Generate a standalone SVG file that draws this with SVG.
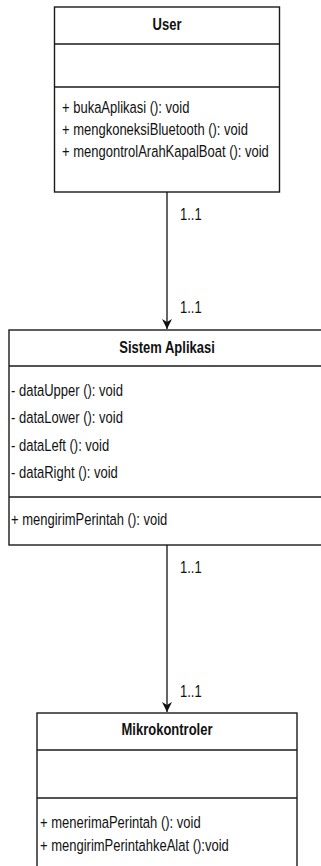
<svg xmlns="http://www.w3.org/2000/svg" width="321" height="866" viewBox="0 0 321 866">
<defs>
<marker id="arr" markerUnits="userSpaceOnUse" markerWidth="10" markerHeight="12" viewBox="0 0 10 12" refX="10" refY="5" orient="auto">
<path d="M0,0 L10,5 L0,10 L3,5 Z" fill="#111"/>
</marker>
<style>
.box{fill:#fff;stroke:#1a1a1a;stroke-width:1.4}
.sep{stroke:#1a1a1a;stroke-width:1.4}
.t{font-family:"Liberation Sans",Arial,sans-serif;font-size:13px;fill:#111}
.b{font-family:"Liberation Sans",Arial,sans-serif;font-size:13px;font-weight:bold;fill:#111;text-anchor:middle}
.edge{stroke:#111;stroke-width:1.3;fill:none}
</style>
</defs>
<rect width="321" height="866" fill="#fff"/>
<g id="user">
<rect class="box" x="54.5" y="7" width="225" height="185"/>
<line class="sep" x1="54.5" y1="44" x2="279.5" y2="44"/>
<line class="sep" x1="54.5" y1="87" x2="279.5" y2="87"/>
<text class="b" transform="translate(167,30) scale(1,1.3)">User</text>
<text class="t" transform="translate(62,113) scale(1,1.3)">+ bukaAplikasi (): void</text>
<text class="t" transform="translate(62,135) scale(1,1.3)">+ mengkoneksiBluetooth (): void</text>
<text class="t" transform="translate(62,157) scale(1,1.3)">+ mengontrolArahKapalBoat (): void</text>
</g>
<g id="sistem">
<rect class="box" x="9" y="330" width="316" height="215"/>
<line class="sep" x1="9" y1="366" x2="325" y2="366"/>
<line class="sep" x1="9" y1="497" x2="325" y2="497"/>
<text class="b" transform="translate(167,353) scale(1,1.3)">Sistem Aplikasi</text>
<text class="t" transform="translate(11,396) scale(1,1.3)">- dataUpper (): void</text>
<text class="t" transform="translate(11,423) scale(1,1.3)">- dataLower (): void</text>
<text class="t" transform="translate(11,451) scale(1,1.3)">- dataLeft (): void</text>
<text class="t" transform="translate(11,478) scale(1,1.3)">- dataRight (): void</text>
<text class="t" transform="translate(11,525) scale(1,1.3)">+ mengirimPerintah (): void</text>
</g>
<g id="mikro">
<rect class="box" x="37" y="713" width="260" height="170"/>
<line class="sep" x1="37" y1="750" x2="297" y2="750"/>
<line class="sep" x1="37" y1="798" x2="297" y2="798"/>
<text class="b" transform="translate(167,735) scale(1,1.3)">Mikrokontroler</text>
<text class="t" transform="translate(40,828) scale(1,1.3)">+ menerimaPerintah (): void</text>
<text class="t" transform="translate(40,851) scale(1,1.3)">+ mengirimPerintahkeAlat ():void</text>
</g>
<g id="connectors">
<line class="edge" x1="167" y1="192" x2="167" y2="329" marker-end="url(#arr)"/>
<text class="t" transform="translate(180,220) scale(1,1.3)">1..1</text>
<text class="t" transform="translate(180,313) scale(1,1.3)">1..1</text>
<line class="edge" x1="167" y1="545" x2="167" y2="712" marker-end="url(#arr)"/>
<text class="t" transform="translate(180,573) scale(1,1.3)">1..1</text>
<text class="t" transform="translate(180,697) scale(1,1.3)">1..1</text>
</g>
</svg>
